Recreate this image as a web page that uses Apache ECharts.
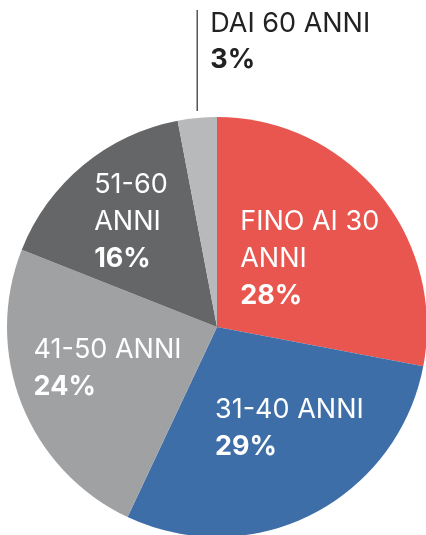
<!DOCTYPE html>
<html>
<head>
<meta charset="utf-8">
<script src="https://cdn.jsdelivr.net/npm/echarts@6/dist/echarts.min.js"></script>
<style>
  html, body { margin: 0; padding: 0; background: #fff; }
  #chart { width: 426px; height: 535px; }
</style>
</head>
<body>
<div id="chart"></div>
<script>
// fasce d'eta e quote
var categories = ['FINO AI 30\nANNI', '31-40 ANNI', '41-50 ANNI', '51-60\nANNI', 'DAI 60 ANNI'];
var values = [28, 29, 24, 16, 3];
var colors = ['#e8564f', '#3e6ea8', '#a0a1a3', '#656668', '#b8b9bb'];

// spostamento etichette rispetto al centro naturale (bordo sinistro, centro verticale)
var shiftX = [-60, -51, -83, -54];
var shiftY = [1, 5, 2, -22];

var chart = echarts.init(document.getElementById('chart'));

var data = categories.map(function (name, i) {
    var item = {
        name: name,
        value: values[i],
        itemStyle: { color: colors[i] }
    };
    if (i === categories.length - 1) {
        item.label = {
            position: 'outside',
            rich: {
                n: { color: '#222', fontSize: 27, fontWeight: 400, lineHeight: 36, fontFamily: 'Inter', align: 'left' },
                b: { color: '#222', fontSize: 27, fontWeight: 700, lineHeight: 36, fontFamily: 'Inter', align: 'left' }
            }
        };
        item.labelLine = { show: true, lineStyle: { color: '#555', width: 1.5 } };
    }
    return item;
});

chart.setOption({
    animation: false,
    series: [{
        type: 'pie',
        center: [217, 327],
        radius: 210,
        startAngle: 90,
        clockwise: true,
        avoidLabelOverlap: false,
        label: {
            show: true,
            position: 'inside',
            formatter: function (p) {
                var lines = p.name.split('\n').map(function (s) { return '{n|' + s + '}'; });
                return lines.join('\n') + '\n{b|' + p.value + '%}';
            },
            rich: {
                n: { color: '#fff', fontSize: 27, fontWeight: 400, lineHeight: 37, fontFamily: 'Inter', align: 'left' },
                b: { color: '#fff', fontSize: 27, fontWeight: 700, lineHeight: 37, fontFamily: 'Inter', align: 'left' }
            }
        },
        labelLine: { show: false },
        labelLayout: function (params) {
            var i = params.dataIndex;
            var r = params.labelRect;
            if (i === categories.length - 1) {
                var p0 = params.labelLinePoints ? params.labelLinePoints[0] : [r.x, r.y + r.height];
                return {
                    x: p0[0] + 13,
                    y: p0[1] - 112,
                    align: 'left',
                    verticalAlign: 'top',
                    labelLinePoints: [[p0[0], p0[1] - 7], [p0[0], p0[1] - 60], [p0[0], p0[1] - 108]]
                };
            }
            return {
                x: r.x + r.width / 2 + shiftX[i],
                y: r.y + r.height / 2 + shiftY[i],
                align: 'left',
                verticalAlign: 'middle'
            };
        },
        data: data
    }]
});
</script>
</body>
</html>
